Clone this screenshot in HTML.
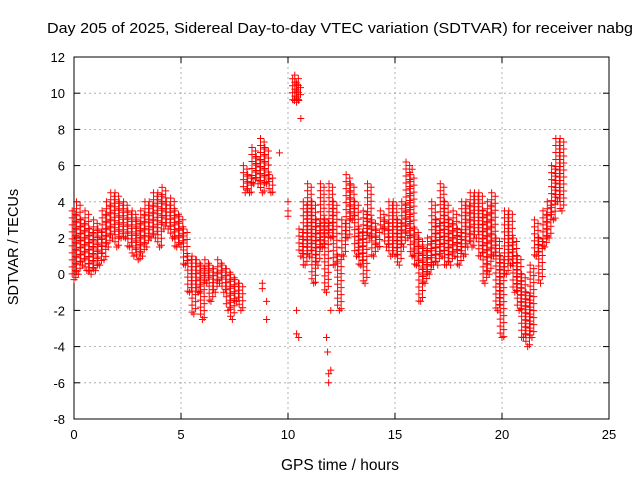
<!DOCTYPE html>
<html><head><meta charset="utf-8"><style>
body{margin:0;background:#fff}
svg text{font-family:"Liberation Sans",sans-serif;fill:#000}
</style></head><body>
<svg width="640" height="480" xmlns="http://www.w3.org/2000/svg">
<rect width="640" height="480" fill="#fff"/>
<text x="47" y="33" font-size="15" textLength="586" lengthAdjust="spacingAndGlyphs">Day 205 of 2025, Sidereal Day-to-day VTEC variation (SDTVAR) for receiver nabg</text>
<g id="grid"></g>
<g id="axes"></g>
<g id="marks"></g>
<text x="340" y="470" font-size="15.5" text-anchor="middle">GPS time / hours</text>
<text x="0" y="0" font-size="14.5" text-anchor="middle" transform="translate(18,247) rotate(-90)">SDTVAR / TECUs</text>
</svg>
<script>
const xTicks=[0,5,10,15,20,25];
const yTicks=[-8,-6,-4,-2,0,2,4,6,8,10,12];
const times=[0,0.2,0.4,0.6,0.8,1,1.2,1.4,1.6,1.8,2,2.2,2.4,2.6,2.8,3,3.2,3.4,3.6,3.8,4,4.2,4.4,4.6,4.8,5,5.2,5.4,5.6,5.8,6,6.2,6.4,6.6,6.8,7,7.2,7.4,7.6,7.8,
8.0,8.2,8.4,8.6,8.8,9.0,9.2,10.3,10.4,10.5,10.6,10.8,11,11.2,11.4,11.6,11.8,12,12.2,12.4,12.6,12.8,13,13.2,13.4,13.6,13.8,14,14.2,14.4,14.6,14.8,15,15.2,15.4,15.6,15.8,16,16.2,16.4,16.6,16.8,17,17.2,17.4,17.6,17.8,18,18.2,18.4,18.6,18.8,19,19.2,19.4,19.6,19.8,20,20.2,20.4,20.6,20.8,21,21.2,21.4,21.6,21.8,22,22.2,22.4,22.6,22.8];
const lows=[-0.3,0,0.5,0.2,0,0.2,0.5,0.8,1.5,2,1.5,2,2,1.5,1,0.8,1,1.5,2,2,1.5,2.5,2.5,2,1.5,1.5,0.5,-1,-2.2,-1,-2.5,-0.5,-1.5,-1,-0.5,-1,-2,-2.5,-1.5,-2,
4.5,4.5,5,5,4.5,5,4.5,9.6,9.5,9.6,1,0.5,1,-0.5,0.5,1.5,-1,2,0.5,-2,1,2,3,1,0.5,-0.5,2,1,1.5,2.5,1.5,1,1,0.5,1.5,2,1,0.5,-1.5,-0.5,0,0.5,0.5,1,0.5,0.5,1,0.5,1,1.5,1.5,2,1,-0.5,0,1,-2,-3.5,0,0.5,-1,-2,-3.5,-4,-3.5,1,-0.5,1.5,2,3,4,3.5];
const highs=[3.5,4,3,3.5,2.5,3,2.5,3.5,4,4.5,4.5,4,4,3.5,3.5,3,3.5,4,4,4.5,4.5,4.8,4,4.2,3.5,3.2,2.5,1,1,0.8,0.5,0.8,0.5,0.3,0.8,0.5,0.3,0,-0.3,-0.5,
6,5.5,7,6.5,7.5,7,5.5,10.8,11,10.5,2.5,4,5,4,3,5,3,5,4,1,3,5.5,5,4,2.5,3.5,5,3,2.5,3.5,3,4,4,3,4,6.2,5.5,2.5,2,1.5,2,4,3,5,4,3,3.5,2.5,4,4,4.5,4.5,4.5,3.5,4,4.5,2,1,3.5,3.5,2,1,0,-1,0.5,3,2,3.5,4,6,7.5,7.5];
const extraT=[8.8,8.8,9.0,9.0,9.6,10.0,10.0,10.4,10.4,10.5,10.6,11.8,11.85,11.9,11.9,12.0,12.0,15.8,10.0];
const extraV=[-0.5,-0.8,-1.5,-2.5,6.7,4,3.5,-2,-3.3,-3.5,8.6,-3.5,-4.3,-5.5,-6,-5.3,-2,5.8,3.2];
const X0=74,X1=609,Y0=419,Y1=57;
const sx=v=>X0+(v-0)/(25-0)*(X1-X0);
const sy=v=>Y0-(v+8)/(12+8)*(Y0-Y1);
const NS="http://www.w3.org/2000/svg";
const grid=document.getElementById('grid'),axes=document.getElementById('axes'),marks=document.getElementById('marks');
function mk(tag,at,parent){const e=document.createElementNS(NS,tag);for(const k in at)e.setAttribute(k,at[k]);parent.appendChild(e);return e;}
xTicks.forEach(t=>{const x=sx(t);
 if(t>0&&t<25){const g=mk('line',{x1:x,x2:x,y1:Y0,y2:Y1,stroke:'#a0a0a0','stroke-dasharray':'2,3','stroke-width':0.8},grid);
 
 }
 mk('line',{x1:x,x2:x,y1:Y0,y2:Y0-6,stroke:'#000'},axes);
 mk('line',{x1:x,x2:x,y1:Y1,y2:Y1+6,stroke:'#000'},axes);
 const tx=mk('text',{x:x,y:Y0+20,'font-size':13,'text-anchor':'middle'},axes);tx.textContent=t;
 
 
});
yTicks.forEach(t=>{const y=sy(t);
 if(t>-8&&t<12){const g=mk('line',{x1:X0,x2:X1,y1:y,y2:y,stroke:'#a0a0a0','stroke-dasharray':'2,3','stroke-width':0.8},grid);
 
 }
 mk('line',{x1:X0,x2:X0+6,y1:y,y2:y,stroke:'#000'},axes);
 mk('line',{x1:X1,x2:X1-6,y1:y,y2:y,stroke:'#000'},axes);
 const tx=mk('text',{x:X0-9,y:y+5,'font-size':13,'text-anchor':'end'},axes);tx.textContent=t;
 
 
});
const fr=mk('rect',{x:X0,y:Y1,width:X1-X0,height:Y0-Y1,fill:'none',stroke:'#000'},axes);


let d='';
function plus(x,y){d+=`M${x-3.5},${y}h7M${x},${y-3.5}v7`;}
times.forEach((t,i)=>{const x=sx(t),a=sy(highs[i]),b=sy(lows[i]);let k=0;
 for(let y=a;y<=b;y+=3.5){plus(x+(k%2?1.8:-1.8),y);k++;}plus(x,b);});
extraT.forEach((t,i)=>plus(sx(t),sy(extraV[i])));
const p=mk('path',{d:d,stroke:'#f00','stroke-width':1,fill:'none'},marks);


</script>
</body></html>
